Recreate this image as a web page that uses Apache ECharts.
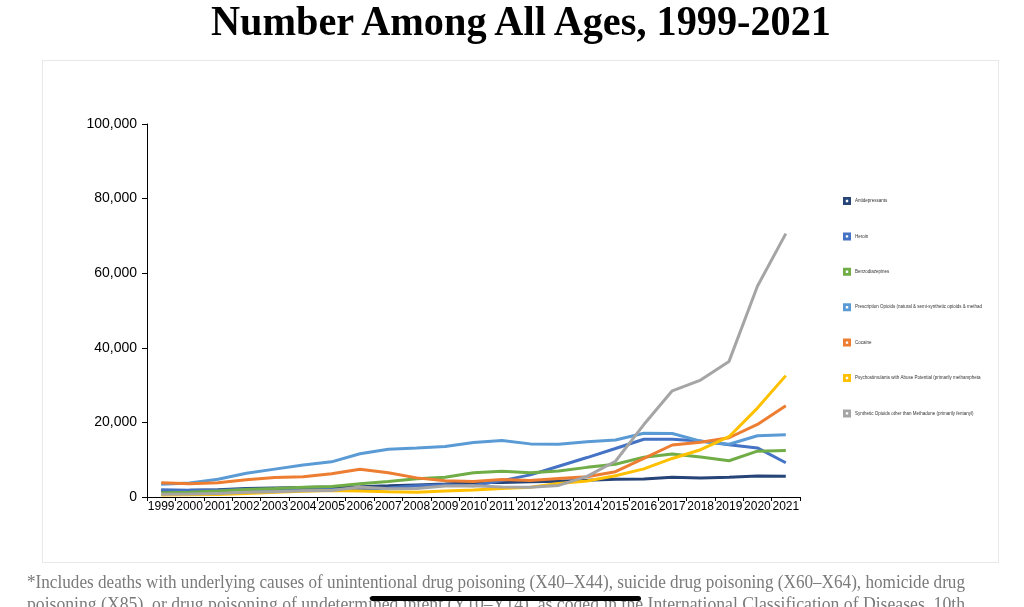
<!DOCTYPE html>
<html>
<head>
<meta charset="utf-8">
<script src="https://cdn.jsdelivr.net/npm/echarts@6/dist/echarts.min.js"></script>
<style>
html,body{margin:0;padding:0;width:1024px;height:607px;overflow:hidden;background:#fff;}
#card{position:absolute;left:42px;top:60px;width:955px;height:501px;border:1px solid #e8e8e8;background:#fff;}
#chart{position:absolute;left:0;top:0;width:1024px;height:607px;}
.t{position:absolute;white-space:nowrap;transform-origin:0 0;}
#title{top:-3px;font-family:"Liberation Serif","Times New Roman",serif;font-weight:bold;font-size:42px;color:#000;}
.fn{font-family:"Liberation Serif","Times New Roman",serif;font-size:19px;color:#7a7a7a;}
#bar{position:absolute;left:370px;top:596px;width:271px;height:5px;border-radius:3px;background:#000;}
</style>
</head>
<body>
<div id="card"></div>
<div id="chart"></div>
<div id="title" class="t">Number Among All Ages, 1999-2021</div>
<div id="fn1" class="t fn" style="top:571px;">*Includes deaths with underlying causes of unintentional drug poisoning (X40–X44), suicide drug poisoning (X60–X64), homicide drug</div>
<div id="fn2" class="t fn" style="top:593px;">poisoning (X85), or drug poisoning of undetermined intent (Y10–Y14), as coded in the International Classification of Diseases, 10th</div>
<div id="bar"></div>
<script>
var years = ['1999','2000','2001','2002','2003','2004','2005','2006','2007','2008','2009','2010','2011','2012','2013','2014','2015','2016','2017','2018','2019','2020','2021'];
var yTicks = [0, 20000, 40000, 60000, 80000, 100000];
var seriesNames = [
  'Antidepressants',
  'Heroin',
  'Benzodiazepines',
  'Prescription Opioids (natural & semi-synthetic opioids & methadone)',
  'Cocaine',
  'Psychostimulants with Abuse Potential (primarily methamphetamine)',
  'Synthetic Opioids other than Methadone (primarily fentanyl)'
];
var antidepressants = [1749,1808,1970,2260,2424,2543,2653,2779,2997,3236,3475,3889,3889,4078,4237,4521,4740,4800,5269,5064,5320,5597,5577];
var heroin = [1960,1842,1779,2089,2080,1878,2009,2088,2399,3041,3278,3036,4397,5925,8257,10574,12989,15469,15482,14996,14019,13165,9173];
var benzodiazepines = [1135,1298,1594,2007,2248,2585,2843,3568,4153,4864,5291,6497,6872,6524,6973,7945,8791,10684,11537,10724,9711,12290,12499];
var prescriptionOpioids = [3442,3785,4770,6364,7470,8577,9422,11589,12796,13149,13523,14583,15140,14240,14145,14838,15281,17087,17029,14975,14139,16416,16706];
var cocaine = [3822,3544,3833,4599,5199,5443,6208,7448,6512,5129,4350,4183,4681,4404,4944,5415,6784,10375,13942,14666,15883,19447,24486];
var psychostimulants = [547,578,637,960,1288,1517,1742,1640,1378,1302,1632,1854,2266,2635,3627,4298,5716,7542,10333,12676,16167,23837,32537];
var syntheticOpioids = [730,782,957,1295,1400,1664,1742,2707,2213,2306,2946,3007,2666,2628,3105,5544,9580,19413,28466,31335,36359,56516,70601];
var colors = ['#264478','#4472C4','#70AD47','#5B9BD5','#ED7D31','#FFC000','#A5A5A5'];
var dataSets = [antidepressants, heroin, benzodiazepines, prescriptionOpioids, cocaine, psychostimulants, syntheticOpioids];

function fit(id, left, width){
  var el = document.getElementById(id);
  var w = el.getBoundingClientRect().width;
  el.style.left = left + 'px';
  el.style.transform = 'scaleX(' + (width / w) + ')';
}
fit('title', 211, 620);
fit('fn1', 27, 938);
fit('fn2', 27, 938);

var icon = 'path://M0,0H10V10H0Z M3.5,3.5V6.5H6.5V3.5Z';
var chart = echarts.init(document.getElementById('chart'), null, {renderer:'canvas'});
chart.setOption({
  animation:false,
  color: colors,
  grid:{left:147, right:224, top:124, bottom:110, containLabel:false},
  legend:{
    orient:'vertical', left:838, top:192, itemWidth:8, itemHeight:8, itemGap:27.4,
    icon: icon,
    data: seriesNames.map(function(n){return {name:n, icon:icon};}),
    textStyle:{fontSize:4.5, color:'#333', fontFamily:'Liberation Sans, Arial', width:130, overflow:'truncate', ellipsis:'', padding:[0,0,0,-1]}
  },
  xAxis:{
    type:'category', data:years, boundaryGap:true,
    axisLine:{lineStyle:{color:'#000', width:1}},
    axisTick:{show:true, length:4, lineStyle:{color:'#000'}},
    axisLabel:{interval:0, color:'#000', fontSize:12, margin:4, fontFamily:'Liberation Sans, Arial'}
  },
  yAxis:{
    type:'value', min:0, max:100000, interval:20000,
    axisLine:{show:true, lineStyle:{color:'#000', width:1}},
    axisTick:{show:true, length:5, lineStyle:{color:'#000'}},
    splitLine:{show:false},
    axisLabel:{color:'#000', fontSize:14, margin:10, fontFamily:'Liberation Sans, Arial',
      formatter:function(v){return v.toLocaleString('en-US');}}
  },
  series: seriesNames.map(function(n,i){
    return {name:n, type:'line', data:dataSets[i], symbol:'none', lineStyle:{width:3, color:colors[i]}, itemStyle:{color:colors[i]}};
  })
});
</script>
</body>
</html>
